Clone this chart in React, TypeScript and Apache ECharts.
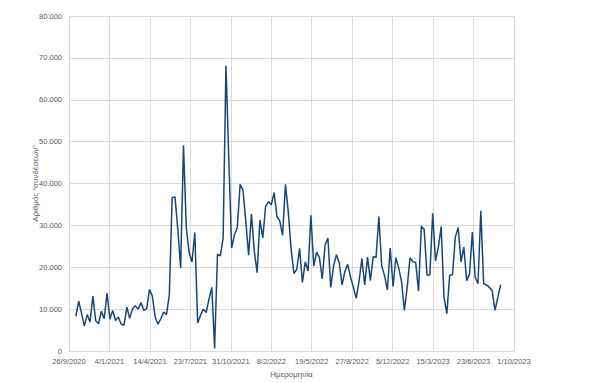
import React, { useEffect, useRef } from "react";
import * as echarts from "echarts";

// Axis origin date and first observation date (weekly observations)
const axisStart = Date.UTC(2020, 8, 26); // 26/9/2020
const firstObs = Date.UTC(2020, 9, 13); // 13/10/2020
const DAY = 86400000;

// Weekly values ("συνδέσεις")
const values: number[] = [
  8300, 11900, 9000, 6000, 8700, 6900, 13100, 7200, 6500, 9500,
  7700, 13800, 7600, 9700, 7300, 8100, 6400, 6200, 10500, 7800,
  10100, 10800, 10000, 11600, 9700, 10100, 14700, 13100, 8100, 6400,
  7700, 9300, 8700, 13400, 36600, 36800, 29000, 19800, 49100, 29400,
  23500, 21300, 28300, 6700, 8500, 10000, 9200, 12400, 15200, 600,
  23100, 22700, 27000, 68100, 46000, 24600, 27800, 29500, 39800, 38400,
  31000, 22900, 32700, 23900, 18700, 31300, 27000, 34500, 35700, 34900,
  37800, 32100, 31100, 27600, 39800, 33300, 24300, 18500, 19500, 24500,
  16400, 21300, 19100, 32400, 20300, 23600, 22300, 17200, 25300, 27000,
  15200, 20300, 23000, 21100, 15800, 19000, 20700, 17600, 15200, 12600,
  16600, 22100, 15800, 22400, 16800, 22600, 22300, 32100, 20300, 18000,
  14600, 24600, 15400, 22300, 19800, 16600, 9700, 15200, 22300, 21300,
  21100, 14300, 29800, 29000, 18100, 18200, 32900, 21500, 24800, 29700,
  12800, 8900, 18100, 18200, 27200, 29500, 21300, 24800, 16800, 18300,
  28400, 17600, 16100, 33500, 16000, 15800, 15200, 14400, 9700, 12800,
  15800,
];

const yTicks = { min: 0, max: 80000, interval: 10000 };
const xTicks = { min: 0, max: 1100, interval: 100 }; // days since 26/9/2020

const yName = "Αριθμός “συνδέσεων”";
const xName = "Ημερομηνία";

const fmtDay = (d: number) => {
  const t = new Date(axisStart + d * DAY);
  return `${t.getUTCDate()}/${t.getUTCMonth() + 1}/${t.getUTCFullYear()}`;
};
const fmtNum = (v: number) =>
  String(Math.round(v)).replace(/\B(?=(\d{3})+(?!\d))/g, ".");

export default function App() {
  const ref = useRef<HTMLDivElement>(null);
  useEffect(() => {
    if (!ref.current) return;
    const chart = echarts.init(ref.current, null, { renderer: "svg" });
    const offset = Math.round((firstObs - axisStart) / DAY);
    const data = values.map((v, i) => [offset + 7 * i, v]);
    const font = "'Liberation Sans', Arial, sans-serif";
    chart.setOption({
      animation: false,
      backgroundColor: "#ffffff",
      grid: { left: 69, right: 86, top: 16, bottom: 29, containLabel: false },
      xAxis: {
        type: "value",
        min: xTicks.min,
        max: xTicks.max,
        interval: xTicks.interval,
        name: xName,
        nameLocation: "middle",
        nameGap: 19,
        nameMoveOverlap: false,
        nameTextStyle: { color: "#595959", fontSize: 8, fontFamily: font },
        axisLine: { show: true, lineStyle: { color: "#d9d9d9", width: 1 } },
        axisTick: { show: false },
        axisLabel: {
          color: "#595959",
          fontSize: 7.5,
          fontFamily: font,
          margin: 6,
          formatter: (v: number) => fmtDay(v),
        },
        splitLine: { show: true, lineStyle: { color: "#d9d9d9", width: 1 } },
      },
      yAxis: {
        type: "value",
        min: yTicks.min,
        max: yTicks.max,
        interval: yTicks.interval,
        name: yName,
        nameLocation: "middle",
        nameGap: 30,
        nameMoveOverlap: false,
        nameTextStyle: { color: "#595959", fontSize: 8, fontFamily: font },
        axisLine: { show: false },
        axisTick: { show: false },
        axisLabel: {
          color: "#595959",
          fontSize: 7.5,
          fontFamily: font,
          margin: 7,
          formatter: (v: number) => fmtNum(v),
        },
        splitLine: { show: true, lineStyle: { color: "#d9d9d9", width: 1 } },
      },
      series: [
        {
          type: "line",
          data,
          showSymbol: false,
          symbol: "none",
          lineStyle: { color: "#194775", width: 1.5 },
        },
      ],
    });
    return () => chart.dispose();
  }, []);
  return (
    <div
      ref={ref}
      style={{ position: "absolute", left: 0, top: 0, width: 600, height: 383 }}
    />
  );
}
